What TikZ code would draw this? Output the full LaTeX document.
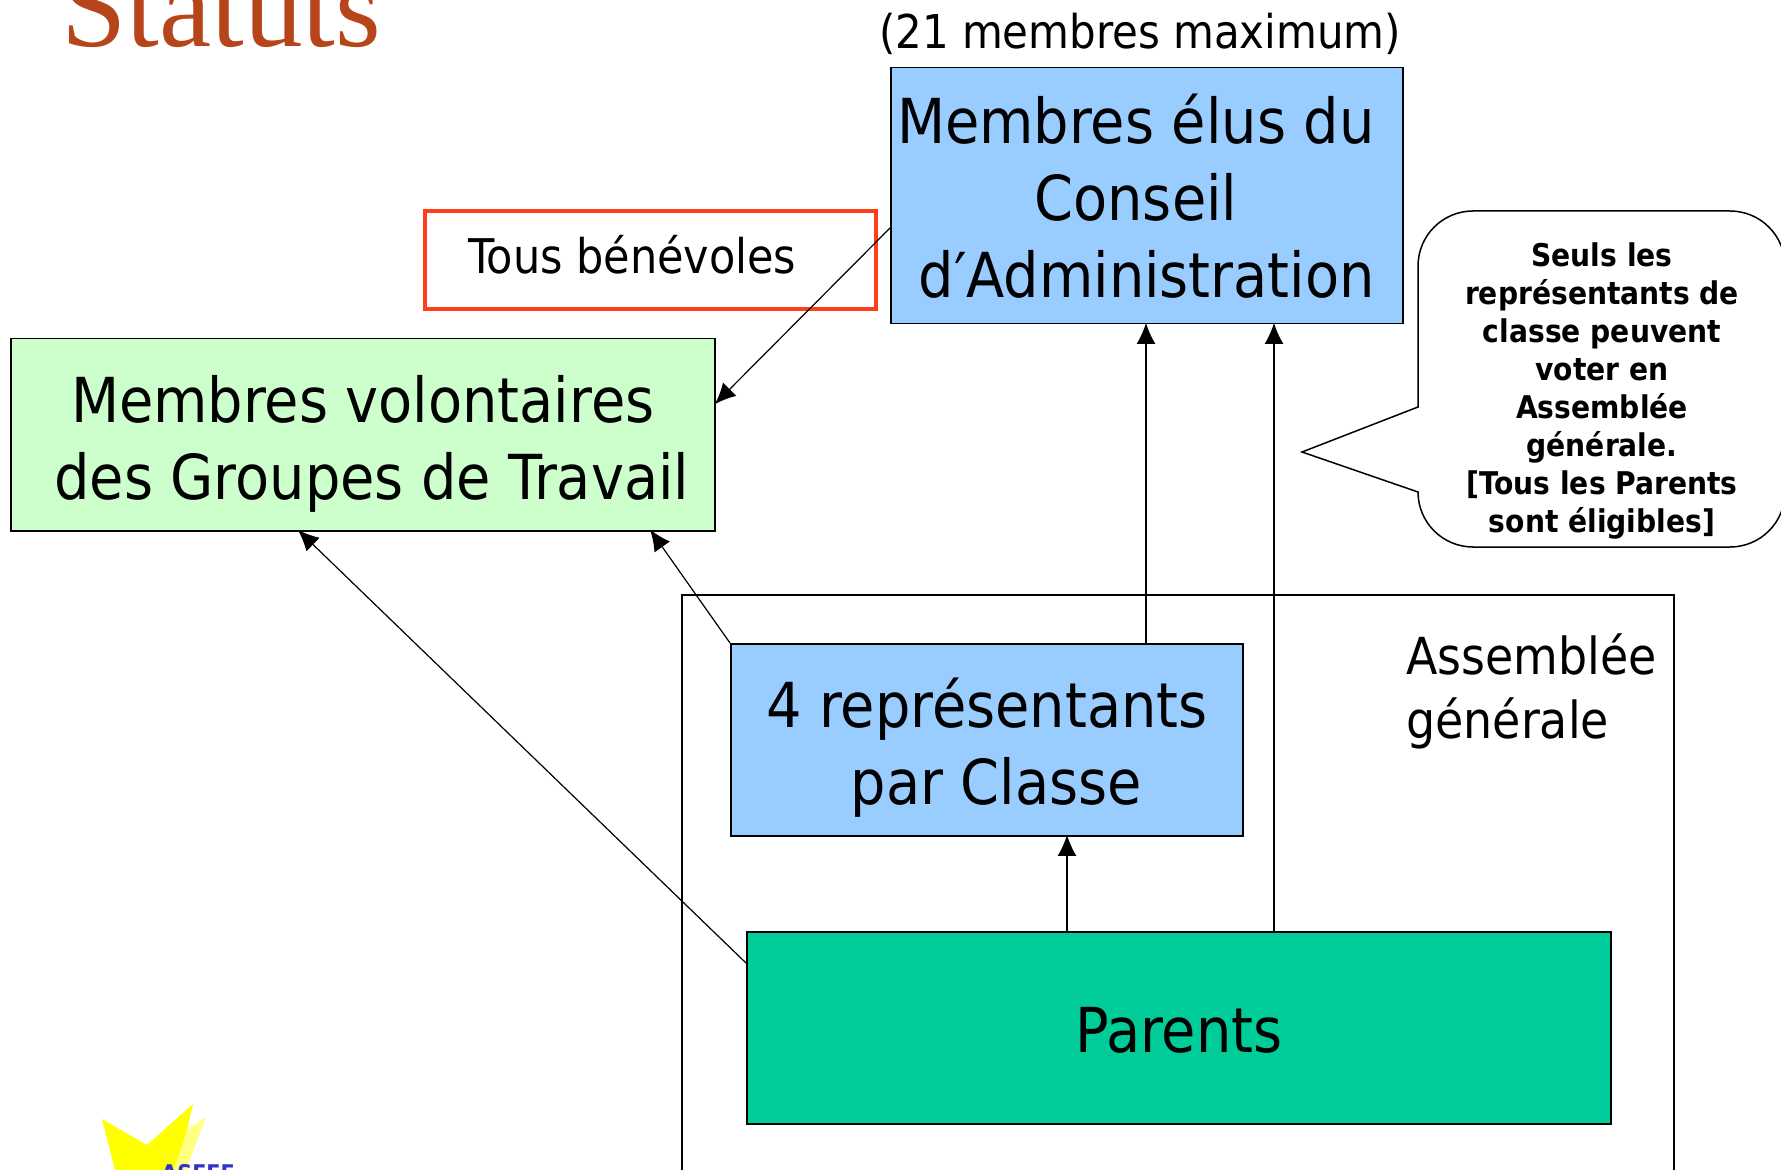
\documentclass[tikz,border=0pt]{standalone}
\usepackage{fontspec}
\usepackage{tikz}
\usetikzlibrary{arrows.meta,positioning}
\setmainfont{DejaVu Sans Condensed}
\newfontfamily\titlefont{Liberation Serif}
\definecolor{caBlue}{HTML}{99CCFF}
\definecolor{volGreen}{HTML}{CCFFCC}
\definecolor{parentGreen}{HTML}{00CC99}
\definecolor{redLine}{HTML}{FF3F1A}
\definecolor{titleRed}{HTML}{B7451A}
\definecolor{logoBlue}{HTML}{3333CC}
\definecolor{logoYellow}{HTML}{FFFF00}
\newcommand{\lowered}[2]{\raisebox{\dimexpr#1-6.5pt}[0pt][0pt]{\begin{tabular}{@{}c@{}}#2\end{tabular}}}
\tikzset{
  basic/.style = {draw, line width=0.75pt, inner sep=0pt, align=center, anchor=north west},
  bigbox/.style = {basic, font=\fontsize{31}{38.5}\selectfont},
  link/.style = {->, line width=0.6pt, shorten >=-0.8pt},
  free/.style = {inner sep=0pt, align=left, anchor=west}
}

\begin{document}
\begin{tikzpicture}[x=0.5pt, y=-0.5pt, >={Latex[length=10.5pt,width=9.5pt]}]
\useasboundingbox[clip] (0,0) rectangle (1781,1170);

% title, cut by the top of the page
\node[free, anchor=base west, text=titleRed, font=\fontsize{58.7}{58.7}\titlefont] (title) at (61,47) {Statuts};
\node[free, anchor=base, font=\fontsize{23.3}{23.3}\selectfont] (maxi) at (1140,49) {(21 membres maximum)};

% the boxes
\node[bigbox, fill=caBlue, minimum width=256pt, minimum height=128pt] (ca) at (890,67) {\lowered{-4.5pt}{Membres élus du\hspace*{10.8pt}\\Conseil\hspace*{10.8pt}\\d′Administration}};
\node[basic, draw=redLine, line width=2pt, minimum width=225.5pt, minimum height=49pt, font=\fontsize{23.9}{27}\selectfont] (benevoles) at (423,209) {\lowered{-1.1pt}{Tous bénévoles\hspace*{18pt}}};
\node[bigbox, fill=volGreen, minimum width=352pt, minimum height=96pt] (volontaires) at (10,338) {\lowered{-5pt}{Membres volontaires\\\hspace*{9pt}des Groupes de Travail}};

% assemblee, open at the bottom
\draw[line width=0.75pt] (682,1180) -- (682,595) -- (1674,595) -- (1674,1180);
\node[free, anchor=north west, font=\fontsize{25.5}{32}\selectfont] (assemblee) at (1406,633) {Assemblée\\générale};

\node[bigbox, fill=caBlue, minimum width=256pt, minimum height=96pt] (rep) at (730,643) {\lowered{-5pt}{4 représentants\\\hspace*{9.5pt}par Classe}};
\node[bigbox, fill=parentGreen, minimum width=432pt, minimum height=96pt] (parents) at (746,931) {\lowered{-4.5pt}{Parents}};

% the callout
\draw[line width=0.75pt] (1302,452) -- (1418,407) -- (1418,266) arc (180:270:55) -- (1730,211) arc (-90:0:55) -- (1785,492) arc (0:90:55) -- (1473,547) arc (90:180:55) -- cycle;
\node[align=center, inner sep=0pt, font=\fontsize{15.65}{19}\bfseries\selectfont] (seuls) at (1602,391) {Seuls les\\représentants de\\classe peuvent\\voter en\\Assemblée\\générale.\\{}[Tous les Parents\\sont éligibles]};

% logo, cut by the bottom of the page
\fill[logoYellow!50] (206,1117) -- (187,1130) -- (173,1170) -- (186,1170) -- cycle;
\fill[logoYellow] (102,1119) -- (147,1145) -- (193,1104) -- (187,1130) -- (177,1160) -- (173,1170) -- (115,1170) -- cycle;
\node[inner sep=0pt, anchor=base west, text=logoBlue, font=\fontsize{11.5}{11.5}\bfseries\selectfont] (logo) at (161,1181) {ASEFF};

% the connectors
\coordinate (caout) at (890,228);
\coordinate (volin) at (716,403);
\coordinate (repout) at (730,643);
\coordinate (volin2) at (651,531);
\coordinate (parout) at (746,963);
\coordinate (volin3) at (299,531);
\draw[link] (caout) -- (volin);
\draw[link] (repout) -- (volin2);
\draw[link] (parout) -- (volin3);
\draw[link] (rep.north -| 1146,0) -- (ca.south -| 1146,0);
\draw[link] (parents.north -| 1274,0) -- (ca.south -| 1274,0);
\draw[link] (parents.north -| 1067,0) -- (rep.south -| 1067,0);
\end{tikzpicture}
\end{document}
